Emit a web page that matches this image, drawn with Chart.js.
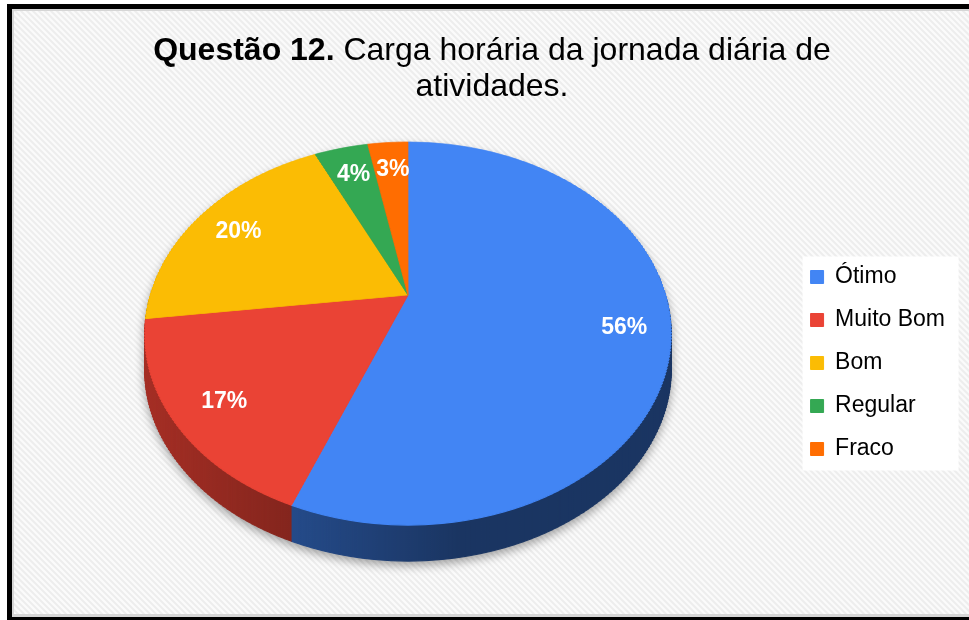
<!DOCTYPE html>
<html>
<head>
<meta charset="utf-8">
<script src="https://cdn.jsdelivr.net/npm/chart.js@4.4.1/dist/chart.umd.min.js"></script>
<style>
html, body { margin: 0; padding: 0; background: #fff; }
#chart { display: block; }
</style>
</head>
<body>
<canvas id="chart" width="969" height="620"></canvas>
<script>
var labels = ['Ótimo', 'Muito Bom', 'Bom', 'Regular', 'Fraco'];
var values = [56, 17, 20, 4, 3];
var colors = ['#4285f4', '#ea4335', '#fbbc04', '#34a853', '#ff6d01'];
var titleBold = 'Questão 12.';
var titleRest = ' Carga horária da jornada diária de';
var titleLine2 = 'atividades.';

// tilted pie: centre, half-axes, perspective and thickness
var PIE_X = 408, PIE_Y = 295, PA = 257.7, PB = 183.8, PERSP = 0.201, DEPTH = 36;
var LABEL_R = 0.82;
var FONT = '"Liberation Sans", Arial, sans-serif';

function project(u, v) {
  var s = 1 / (1 - PERSP * v);
  return [PIE_X + PA * u * s, PIE_Y + PB * v * s];
}
function unprojectY(y) {
  var t = (y - PIE_Y) / PB;
  return t / (1 + PERSP * t);
}

// draw the chart's arcs in thin horizontal bands, each band with its own scale,
// so the flat pie looks seen in perspective
function drawTilted(ctx, arcs) {
  var a = arcs[0], R = a.outerRadius, w = ctx.canvas.width;
  var top = Math.floor(project(0, -1)[1]) - 1;
  var bot = Math.ceil(project(0, 1)[1]) + 1;
  for (var y0 = top; y0 < bot; y0 += 3) {
    var y1 = y0 + 3;
    var v0 = unprojectY(y0), v1 = unprojectY(y1), vm = (v0 + v1) / 2;
    ctx.save();
    ctx.beginPath();
    ctx.rect(0, y0, w, y1 - y0);
    ctx.clip();
    ctx.translate(PIE_X, y0);
    ctx.scale(PA / (R * (1 - PERSP * vm)), (y1 - y0) / ((v1 - v0) * R));
    ctx.translate(-a.x, -(a.y + v0 * R));
    arcs.forEach(function (arc) { arc.draw(ctx); });
    ctx.restore();
  }
}

var background = {
  id: 'background',
  beforeDraw: function (chart) {
    var ctx = chart.ctx, w = chart.width, h = chart.height;
    ctx.save();
    ctx.fillStyle = '#fff';
    ctx.fillRect(0, 0, w, h);
    ctx.fillStyle = '#000';
    ctx.fillRect(7, 4, w - 7, h - 4);
    ctx.beginPath();
    ctx.rect(12, 9, w - 12, 608);
    ctx.clip();
    ctx.fillStyle = '#fbfbfb';
    ctx.fillRect(0, 0, w, h);
    ctx.strokeStyle = '#ededed';
    ctx.lineWidth = 2;
    for (var k = -h; k < w; k += 6) {
      ctx.beginPath();
      ctx.moveTo(k, 0);
      ctx.lineTo(k + h, h);
      ctx.stroke();
    }
    ctx.fillStyle = '#d6d6d6';
    ctx.fillRect(12, 9, w, 2);
    ctx.fillRect(12, 9, 2, 608);
    ctx.fillRect(12, 614, w, 3);
    ctx.restore();

    // white panel behind the legend
    var hb = chart.legend.legendHitBoxes;
    if (hb && hb.length) {
      var last = hb[hb.length - 1];
      var t = hb[0].top - 9;
      ctx.save();
      ctx.fillStyle = '#ffffff';
      ctx.fillRect(hb[0].left - 8, t, 156, last.top + last.height + 10 - t);
      ctx.restore();
    }
  }
};

var pie3d = {
  id: 'pie3d',
  beforeDatasetsDraw: function (chart) {
    var ctx = chart.ctx;
    var arcs = chart.getDatasetMeta(0).data;
    var face = document.createElement('canvas');
    face.width = chart.width;
    face.height = chart.height;
    drawTilted(face.getContext('2d'), arcs);

    var side = document.createElement('canvas');
    side.width = chart.width;
    side.height = chart.height;
    var sctx = side.getContext('2d');
    for (var d = DEPTH; d >= 1; d--) sctx.drawImage(face, 0, d);
    sctx.globalCompositeOperation = 'source-atop';
    var g = sctx.createLinearGradient(PIE_X - PA, 0, PIE_X + PA, 0);
    g.addColorStop(0, 'rgba(0,0,0,0.3)');
    g.addColorStop(0.3, 'rgba(0,0,0,0.45)');
    g.addColorStop(0.6, 'rgba(0,0,0,0.6)');
    g.addColorStop(1, 'rgba(0,0,0,0.6)');
    sctx.fillStyle = g;
    sctx.fillRect(0, 0, side.width, side.height);

    ctx.save();
    ctx.shadowColor = 'rgba(0,0,0,0.35)';
    ctx.shadowBlur = 10;
    ctx.shadowOffsetY = 4;
    ctx.drawImage(side, 0, 0);
    ctx.restore();
    ctx.drawImage(face, 0, 0);
    return false;
  },
  afterDraw: function (chart) {
    var ctx = chart.ctx;
    var arcs = chart.getDatasetMeta(0).data;
    var total = values.reduce(function (s, v) { return s + v; }, 0);
    ctx.save();
    ctx.fillStyle = '#ffffff';
    ctx.font = 'bold 23px ' + FONT;
    ctx.textAlign = 'center';
    ctx.textBaseline = 'middle';
    arcs.forEach(function (arc, i) {
      var p = arc.getProps(['startAngle', 'endAngle']);
      var mid = (p.startAngle + p.endAngle) / 2;
      var pt = project(Math.cos(mid) * LABEL_R, Math.sin(mid) * LABEL_R);
      ctx.fillText(Math.round(values[i] / total * 100) + '%', pt[0] + 2, pt[1] + 4);
    });

    // title, first words in bold
    ctx.fillStyle = '#000';
    ctx.textAlign = 'left';
    ctx.textBaseline = 'alphabetic';
    ctx.font = 'bold 32px ' + FONT;
    var w1 = ctx.measureText(titleBold).width;
    ctx.font = '32px ' + FONT;
    var w2 = ctx.measureText(titleRest).width;
    var x0 = 492 - (w1 + w2) / 2;
    ctx.font = 'bold 32px ' + FONT;
    ctx.fillText(titleBold, x0, 60);
    ctx.font = '32px ' + FONT;
    ctx.fillText(titleRest, x0 + w1, 60);
    ctx.textAlign = 'center';
    ctx.fillText(titleLine2, 492, 96);
    ctx.restore();
  }
};

var chart = new Chart(document.getElementById('chart'), {
  type: 'pie',
  data: {
    labels: labels,
    datasets: [{
      data: values,
      backgroundColor: colors,
      borderColor: colors,
      borderWidth: 1
    }]
  },
  options: {
    responsive: false,
    animation: false,
    layout: { padding: { top: 106, bottom: 0, left: 0, right: 14 } },
    plugins: {
      tooltip: { enabled: false },
      legend: {
        position: 'right',
        labels: {
          boxWidth: 13,
          boxHeight: 13,
          padding: 20,
          color: '#000',
          font: { family: FONT, size: 23 }
        }
      }
    }
  },
  plugins: [background, pie3d]
});
</script>
</body>
</html>
